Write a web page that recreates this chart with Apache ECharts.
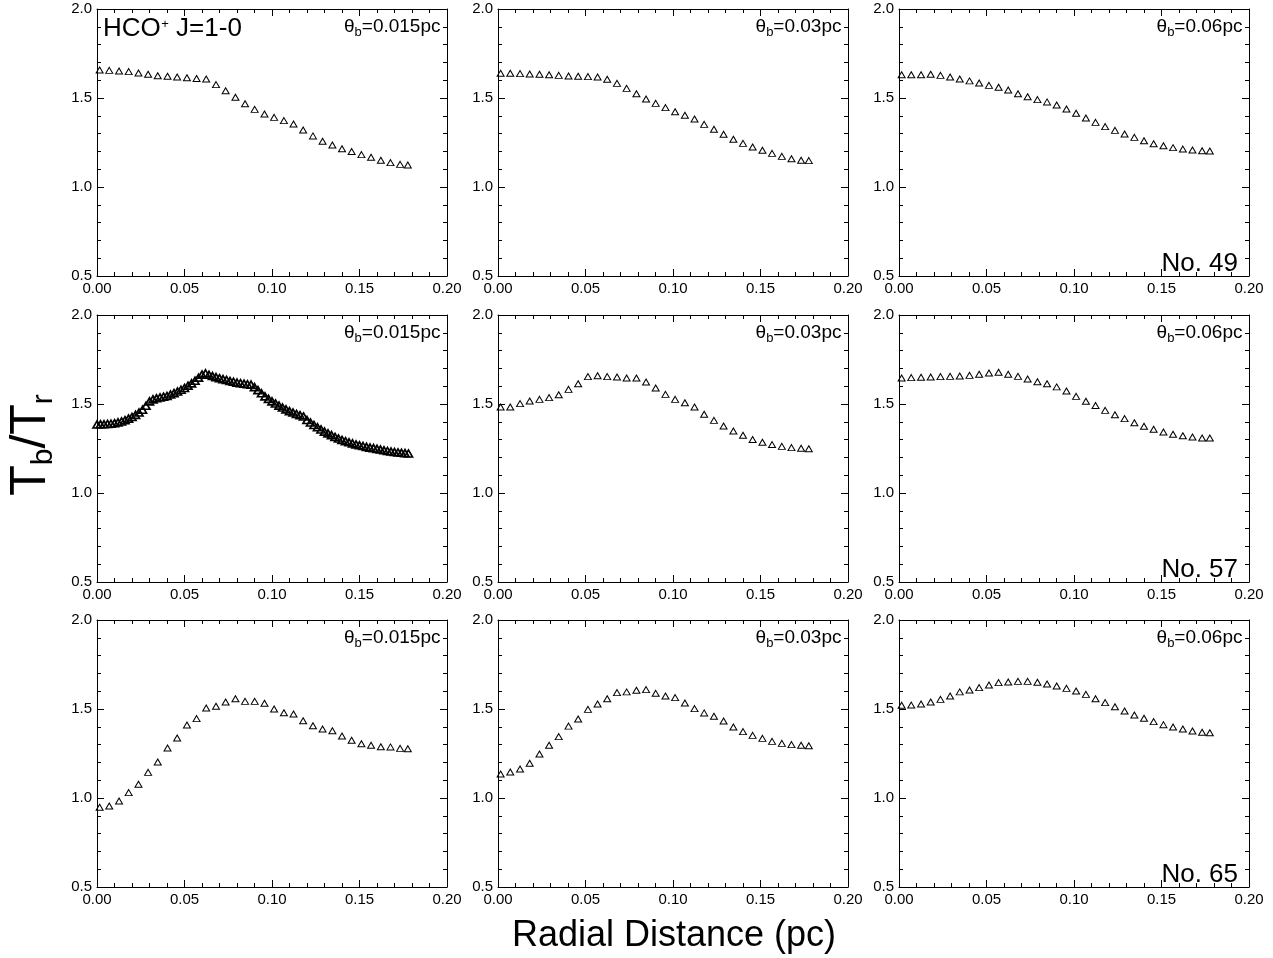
<!DOCTYPE html>
<html><head><meta charset="utf-8">
<script src="https://cdn.jsdelivr.net/npm/echarts@6/dist/echarts.min.js"></script>
<style>html,body{margin:0;padding:0;background:#fff}#c{width:1273px;height:958px}</style>
</head><body><div id="c"></div>
<script>
// ---- data ----
const radius = [0.0015,0.0070,0.0126,0.0181,0.0237,0.0292,0.0347,0.0403,0.0458,0.0514,0.0569,0.0624,0.0680,0.0735,0.0791,0.0846,0.0901,0.0957,0.1012,0.1068,0.1123,0.1178,0.1234,0.1289,0.1345,0.1400,0.1455,0.1511,0.1566,0.1622,0.1677,0.1732,0.1776];
const radiusDense = [0.000,0.002,0.004,0.006,0.008,0.010,0.012,0.014,0.016,0.018,0.020,0.022,0.024,0.026,0.028,0.030,0.032,0.034,0.036,0.038,0.040,0.042,0.044,0.046,0.048,0.050,0.052,0.054,0.056,0.058,0.060,0.062,0.064,0.066,0.068,0.070,0.072,0.074,0.076,0.078,0.080,0.082,0.084,0.086,0.088,0.090,0.092,0.094,0.096,0.098,0.100,0.102,0.104,0.106,0.108,0.110,0.112,0.114,0.116,0.118,0.120,0.122,0.124,0.126,0.128,0.130,0.132,0.134,0.136,0.138,0.140,0.142,0.144,0.146,0.148,0.150,0.152,0.154,0.156,0.158,0.160,0.162,0.164,0.166,0.168,0.170,0.172,0.174,0.176,0.178];

const no49_b015 = [1.657,1.655,1.652,1.648,1.640,1.633,1.625,1.622,1.618,1.614,1.610,1.607,1.575,1.541,1.504,1.468,1.436,1.410,1.391,1.373,1.354,1.320,1.287,1.257,1.236,1.215,1.199,1.182,1.167,1.150,1.137,1.127,1.124];
const no49_b03  = [1.639,1.639,1.637,1.635,1.633,1.631,1.627,1.624,1.622,1.620,1.618,1.605,1.582,1.554,1.524,1.494,1.470,1.446,1.423,1.403,1.382,1.352,1.324,1.296,1.268,1.245,1.225,1.206,1.189,1.172,1.159,1.150,1.148];
const no49_b06  = [1.631,1.631,1.631,1.633,1.627,1.618,1.607,1.596,1.584,1.571,1.560,1.545,1.524,1.507,1.491,1.478,1.461,1.438,1.414,1.388,1.363,1.339,1.318,1.298,1.279,1.260,1.243,1.232,1.221,1.213,1.208,1.204,1.202];

const no57_b015 = [1.385,1.386,1.386,1.388,1.389,1.392,1.397,1.402,1.409,1.418,1.427,1.439,1.452,1.468,1.490,1.515,1.526,1.532,1.537,1.541,1.545,1.553,1.561,1.570,1.580,1.590,1.603,1.616,1.631,1.648,1.665,1.672,1.664,1.657,1.651,1.645,1.640,1.635,1.629,1.625,1.620,1.617,1.614,1.611,1.609,1.595,1.578,1.560,1.543,1.529,1.515,1.503,1.491,1.480,1.470,1.460,1.452,1.444,1.437,1.430,1.410,1.396,1.382,1.369,1.357,1.345,1.335,1.325,1.315,1.306,1.298,1.291,1.285,1.279,1.273,1.268,1.264,1.259,1.255,1.252,1.248,1.244,1.240,1.236,1.233,1.230,1.228,1.226,1.224,1.222];
const no57_b03  = [1.483,1.483,1.502,1.517,1.526,1.536,1.552,1.582,1.614,1.654,1.659,1.654,1.652,1.646,1.646,1.624,1.590,1.554,1.526,1.507,1.483,1.442,1.408,1.376,1.348,1.324,1.301,1.285,1.272,1.262,1.255,1.251,1.249];
const no57_b06  = [1.646,1.648,1.650,1.652,1.654,1.655,1.657,1.661,1.667,1.674,1.678,1.667,1.655,1.640,1.625,1.614,1.596,1.573,1.543,1.515,1.492,1.464,1.440,1.418,1.395,1.375,1.358,1.343,1.330,1.322,1.315,1.309,1.309];

const no65_b015 = [0.948,0.955,0.983,1.030,1.077,1.144,1.202,1.281,1.337,1.410,1.446,1.506,1.515,1.539,1.558,1.543,1.543,1.532,1.500,1.479,1.472,1.434,1.406,1.388,1.378,1.348,1.324,1.305,1.296,1.288,1.287,1.279,1.277];
const no65_b03  = [1.135,1.146,1.163,1.195,1.247,1.296,1.345,1.404,1.444,1.498,1.528,1.558,1.592,1.596,1.605,1.609,1.588,1.573,1.564,1.534,1.502,1.478,1.459,1.433,1.399,1.373,1.352,1.335,1.318,1.307,1.300,1.296,1.294];
const no65_b06  = [1.521,1.522,1.528,1.539,1.554,1.573,1.596,1.607,1.620,1.635,1.648,1.652,1.655,1.655,1.650,1.640,1.629,1.616,1.601,1.582,1.558,1.536,1.513,1.489,1.466,1.448,1.429,1.412,1.399,1.388,1.376,1.369,1.367];

const beamLabels = ['0.015', '0.03', '0.06'];
const modelLabels = ['No. 49', 'No. 57', 'No. 65'];
const xTickLabels = ['0.00', '0.05', '0.10', '0.15', '0.20'];
const yTickLabels = ['0.5', '1.0', '1.5', '2.0'];

const panels = [
  [[radius, no49_b015], [radius, no49_b03], [radius, no49_b06]],
  [[radiusDense, no57_b015], [radius, no57_b03], [radius, no57_b06]],
  [[radius, no65_b015], [radius, no65_b03], [radius, no65_b06]]
];

// ---- layout ----
const colLeft = [97, 498, 899];
const rowTop = [9, 315, 620];
const W = 350, H = 267;
const FONT = '"Liberation Sans", Arial, Helvetica, sans-serif';

const mctx = document.createElement('canvas').getContext('2d');
function tw(s, size) { mctx.font = size + 'px ' + FONT; return mctx.measureText(s).width; }
function txt(s, x, baseline, size) {
  return { type: 'text', x: x, y: baseline - 0.33 * size, silent: true,
    style: { text: s, font: size + 'px ' + FONT, fill: '#000',
      align: 'left', verticalAlign: 'middle', textAlign: 'left', textVerticalAlign: 'middle' } };
}

const grids = [], xAxes = [], yAxes = [], series = [], graphics = [];
const black = '#000';
const TICKFS = 15;

function xAxis(gi, pos) {
  return { type: 'value', gridIndex: gi, position: pos, min: 0, max: 0.2, interval: 0.05,
    axisLine: { show: true, onZero: false, lineStyle: { color: black, width: 1 } },
    axisTick: { show: true, inside: true, length: 7, lineStyle: { color: black, width: 1 } },
    minorTick: { show: true, splitNumber: 5, length: 4, lineStyle: { color: black, width: 1 } },
    splitLine: { show: false }, minorSplitLine: { show: false },
    axisLabel: { show: pos === 'bottom', margin: 5, fontSize: TICKFS, color: black, fontFamily: FONT,
      showMinLabel: true, showMaxLabel: true, hideOverlap: false,
      formatter: v => xTickLabels[Math.round(v / 0.05)] } };
}
function yAxis(gi, pos) {
  return { type: 'value', gridIndex: gi, position: pos, min: 0.5, max: 2.0, interval: 0.5,
    axisLine: { show: true, onZero: false, lineStyle: { color: black, width: 1 } },
    axisTick: { show: true, inside: true, length: 7, lineStyle: { color: black, width: 1 } },
    minorTick: { show: true, splitNumber: 5, length: 4, lineStyle: { color: black, width: 1 } },
    splitLine: { show: false }, minorSplitLine: { show: false },
    axisLabel: { show: pos === 'left', margin: 5, fontSize: TICKFS, color: black, fontFamily: FONT,
      showMinLabel: true, showMaxLabel: true, hideOverlap: false,
      formatter: v => yTickLabels[Math.round((v - 0.5) / 0.5)] } };
}

for (let r = 0; r < 3; r++) {
  for (let c = 0; c < 3; c++) {
    const gi = r * 3 + c;
    grids.push({ left: colLeft[c], top: rowTop[r], width: W, height: H, containLabel: false, outerBoundsMode: 'none' });
    xAxes.push(xAxis(gi, 'bottom')); xAxes.push(xAxis(gi, 'top'));
    yAxes.push(yAxis(gi, 'left')); yAxes.push(yAxis(gi, 'right'));
    const [xs, ys] = panels[r][c];
    const dense = xs.length > 40;
    series.push({ type: 'scatter', xAxisIndex: 2 * gi, yAxisIndex: 2 * gi,
      data: xs.map((x, i) => [x, ys[i]]),
      symbol: 'triangle', symbolSize: dense ? [8, 7] : [7, 6], silent: true,
      itemStyle: { color: 'rgba(0,0,0,0)', borderColor: black, borderWidth: dense ? 1.7 : 1, opacity: 1 } });

    // beam label (theta_b = ...)
    const R = colLeft[c] + W - 6.5;
    const base = rowTop[r] + 24;
    const main = '=' + beamLabels[c] + 'pc';
    const fs = 19, fsub = 13;
    const wMain = tw(main, fs), wSub = tw('b', fsub), wTh = tw('θ', fs);
    graphics.push(txt(main, R - wMain, base, fs));
    graphics.push(txt('b', R - wMain - wSub, base + 4, fsub));
    graphics.push(txt('θ', R - wMain - wSub - wTh, base, fs));
  }
  // model label
  const fsN = 26;
  const Rn = colLeft[2] + W - 11;
  graphics.push(txt(modelLabels[r], Rn - tw(modelLabels[r], fsN), rowTop[r] + H - 4, fsN));
}

// HCO+ J=1-0 label
(function () {
  const x0 = 103, base = 37, fs = 26;
  const w1 = tw('HCO', fs);
  graphics.push(txt('HCO', x0, base, fs));
  graphics.push(txt('+', x0 + w1 + 0.5, 29, 13));
  graphics.push(txt('J=1-0', x0 + w1 + tw('+', 13) + 0.5 + tw(' ', fs), base, fs));
})();

// x title
(function () {
  const s = 'Radial Distance (pc)', fs = 36;
  graphics.push(txt(s, 674 - tw(s, fs) / 2, 948, fs));
})();

// y title T_b/T_r (rotated)
(function () {
  const fs = 50, fsub = 30, sub = 6;
  const parts = [['T', fs, 0], ['b', fsub, sub], ['/', fs, 0], ['T', fs, 0], ['r', fsub, sub]];
  let total = 0; parts.forEach(p => total += tw(p[0], p[1]));
  let x = 0; const children = [];
  parts.forEach(p => { children.push(txt(p[0], x, p[2], p[1])); x += tw(p[0], p[1]); });
  graphics.push({ type: 'group', x: 48, y: 445 + total / 2, rotation: Math.PI / 2, children: children });
})();

const chart = echarts.init(document.getElementById('c'), null, { renderer: 'canvas' });
chart.setOption({
  animation: false,
  backgroundColor: '#fff',
  grid: grids, xAxis: xAxes, yAxis: yAxes, series: series,
  graphic: { elements: graphics }
});
</script></body></html>
